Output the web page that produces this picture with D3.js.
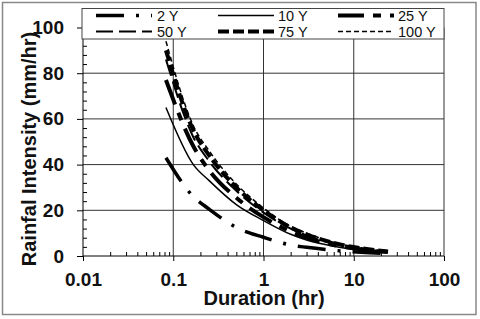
<!DOCTYPE html>
<html>
<head>
<meta charset="utf-8">
<style>
  body { margin: 0; background: #fff; }
  svg { display: block; font-family: "Liberation Sans", Arial, sans-serif; }
</style>
</head>
<body>
<svg width="480" height="319"></svg>
<script src="https://cdn.jsdelivr.net/npm/d3@7"></script>
<script>
// durations in hours
var durations = [0.083, 0.167, 0.25, 0.5, 1, 2, 3, 6, 12, 24];

// rainfall intensity (mm/hr) per return period
var y2   = [43, 26, 20.5, 12.5, 8.2, 4.8, 3.8, 2.5, 1.6, 1.0];
var y10  = [65, 40, 33, 22.5, 15.5, 9.5, 7, 4.3, 2.6, 1.5];
var y25  = [77, 48, 37.5, 25.5, 17, 10.7, 8, 4.8, 2.9, 1.7];
var y50  = [86, 52, 41.5, 28.5, 19, 12, 9, 5.4, 3.2, 1.9];
var y75  = [90, 55, 44, 30, 20, 12.5, 9.5, 5.7, 3.4, 2.0];
var y100 = [94, 57, 46, 31.5, 21, 13, 10, 6, 3.6, 2.1];

var seriesNames = ["2 Y", "10 Y", "25 Y", "50 Y", "75 Y", "100 Y"];
var xTicks = [0.01, 0.1, 1, 10, 100];
var yTicks = [0, 20, 40, 60, 80, 100];

var series = [
  {name: seriesNames[0], values: y2,   width: 3.5, dash: "28,12,3,12"},
  {name: seriesNames[1], values: y10,  width: 1.5, dash: null},
  {name: seriesNames[2], values: y25,  width: 4,   dash: "26,9,8,9"},
  {name: seriesNames[3], values: y50,  width: 2,   dash: "17,6"},
  {name: seriesNames[4], values: y75,  width: 4,   dash: "11,4"},
  {name: seriesNames[5], values: y100, width: 1.5, dash: "5,3"}
];

var svg = d3.select("svg");

// outer frame
svg.append("rect")
  .attr("x", 2.5).attr("y", 2.5).attr("width", 473.5).attr("height", 312)
  .attr("fill", "#fff").attr("stroke", "#888").attr("stroke-width", 1.5);

var pLeft = 83, pRight = 444, pTop = 27.5, pBottom = 256;

var x = d3.scaleLog().domain([0.01, 100]).range([pLeft, pRight]);
var y = d3.scaleLinear().domain([0, 100]).range([pBottom, pTop]);

// grid
var grid = svg.append("g").attr("stroke", "#333").attr("stroke-width", 1);
grid.selectAll(".gx").data([0.1, 1, 10, 100]).enter().append("line")
  .attr("x1", function(d) { return x(d); }).attr("x2", function(d) { return x(d); })
  .attr("y1", pTop).attr("y2", pBottom);
grid.selectAll(".gy").data([20, 40, 60, 80, 100]).enter().append("line")
  .attr("x1", pLeft).attr("x2", pRight)
  .attr("y1", function(d) { return y(d); }).attr("y2", function(d) { return y(d); });

// minor ticks
var xMinor = [];
[0.01, 0.1, 1, 10].forEach(function(b) {
  for (var k = 2; k <= 9; k++) xMinor.push(b * k);
});
var yMinor = d3.range(0, 101, 4).filter(function(v) { return v % 20 != 0; });

svg.append("g").attr("transform", "translate(0," + pBottom + ")")
  .call(d3.axisBottom(x).tickValues(xMinor).tickSize(-4).tickFormat(""))
  .call(function(g) { g.select(".domain").remove(); });
svg.append("g").attr("transform", "translate(" + pLeft + ",0)")
  .call(d3.axisLeft(y).tickValues(yMinor).tickSize(-4).tickFormat(""))
  .call(function(g) { g.select(".domain").remove(); });

// main axes
var xAxis = svg.append("g").attr("transform", "translate(0," + pBottom + ")")
  .call(d3.axisBottom(x).tickValues(xTicks).tickSize(5).tickPadding(12)
    .tickFormat(function(d) { return d < 1 ? String(d) : d3.format("d")(d); }))
  .call(function(g) { g.select(".domain").attr("d", "M" + pLeft + ",0H" + pRight); });
xAxis.selectAll("text").attr("font-size", 19).attr("font-weight", "bold")
  .attr("fill", "#111").style("font-family", "Liberation Sans, Arial, sans-serif");

var yAxis = svg.append("g").attr("transform", "translate(" + pLeft + ",0)")
  .call(d3.axisLeft(y).tickValues(yTicks).tickSize(6).tickPadding(13))
  .call(function(g) { g.select(".domain").attr("d", "M0," + pTop + "V" + pBottom); });
yAxis.selectAll("text").attr("font-size", 19).attr("font-weight", "bold")
  .attr("fill", "#111").style("font-family", "Liberation Sans, Arial, sans-serif");

// axis titles
svg.append("text")
  .attr("x", 264).attr("y", 304.5).attr("text-anchor", "middle")
  .attr("font-size", 20).attr("font-weight", "bold").attr("fill", "#111")
  .text("Duration (hr)");
svg.append("text")
  .attr("transform", "translate(36,149) rotate(-90)").attr("text-anchor", "middle")
  .attr("font-size", 20).attr("font-weight", "bold").attr("fill", "#111")
  .text("Rainfal Intensity (mm/hr)");

// curves
var line = d3.line()
  .x(function(d) { return x(d[0]); })
  .y(function(d) { return y(d[1]); })
  .curve(d3.curveMonotoneX);

svg.append("g").selectAll("path").data(series).enter().append("path")
  .attr("d", function(s) { return line(durations.map(function(t, i) { return [t, s.values[i]]; })); })
  .attr("fill", "none").attr("stroke", "#000")
  .attr("stroke-width", function(s) { return s.width; })
  .attr("stroke-dasharray", function(s) { return s.dash; });

// legend
var lg = svg.append("g");
lg.append("rect").attr("x", 82).attr("y", 8.5).attr("width", 362).attr("height", 30.5)
  .attr("fill", "#fff").attr("stroke", "#444").attr("stroke-width", 1);

var colX = [96, 218, 338];
var rowY = [15.5, 31.5];
var item = lg.selectAll(".item").data(series).enter().append("g")
  .attr("transform", function(d, i) { return "translate(" + colX[i % 3] + "," + rowY[Math.floor(i / 3)] + ")"; });
item.append("line").attr("x1", 0).attr("x2", 56).attr("y1", 0).attr("y2", 0)
  .attr("stroke", "#000")
  .attr("stroke-width", function(s) { return s.width; })
  .attr("stroke-dasharray", function(s) { return s.dash; });
item.append("text").attr("x", function(d, i) { return i == 0 || i == 3 ? 61 : 60; }).attr("y", 5.2)
  .attr("font-size", 14.5).attr("fill", "#111")
  .text(function(s) { return s.name; });
</script>
</body>
</html>
